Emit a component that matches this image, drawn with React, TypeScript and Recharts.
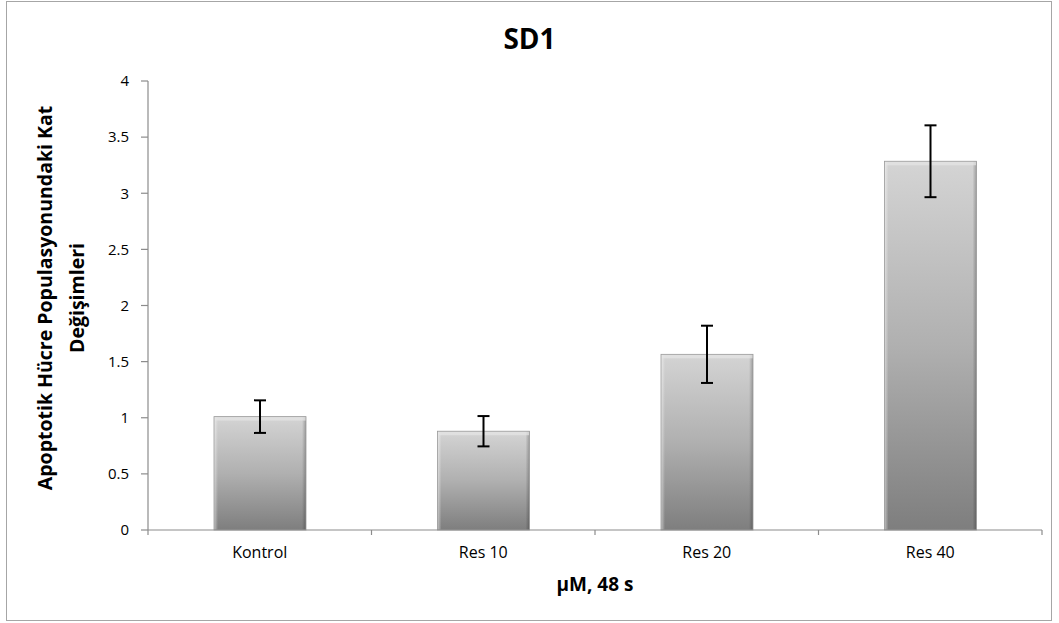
import { BarChart, Bar, XAxis, YAxis, ErrorBar } from "recharts";

const categories = ["Kontrol", "Res 10", "Res 20", "Res 40"];
const foldChange = [1.01, 0.88, 1.565, 3.285];
const errors = [0.145, 0.135, 0.255, 0.32];
const yTicks = [0, 0.5, 1, 1.5, 2, 2.5, 3, 3.5, 4];

const FONT = "'Open Sans', 'Noto Sans', sans-serif";
const AXIS = "#8c8c8c";

const data = categories.map((name, i) => ({
  name,
  value: foldChange[i],
  err: errors[i],
}));

// bar with a soft bevel, like the office-style gradient
function BevelBar(props: any) {
  const { x, y, width, height } = props;
  if (!height || height <= 0) return null;
  return (
    <g>
      <rect x={x} y={y} width={width} height={height} fill="url(#barFill)" />
      <rect x={x} y={y} width={4} height={height} fill="url(#edgeL)" />
      <rect x={x + width - 4} y={y} width={4} height={height} fill="url(#edgeR)" />
      <rect x={x} y={y} width={width} height={4} fill="#e6e6e6" opacity={0.7} />
      <rect x={x} y={y} width={width} height={height} fill="none" stroke="#9a9a9a" strokeWidth={0.8} />
    </g>
  );
}

// category label + tick marks between categories (excel style)
function CatTick(props: any) {
  const { x, y, payload, index, visibleTicksCount } = props;
  const half = payload.offset || 0;
  return (
    <g>
      <line x1={x - half} x2={x - half} y1={y} y2={y + 5} stroke={AXIS} strokeWidth={1.2} />
      {index === visibleTicksCount - 1 && (
        <line x1={x + half} x2={x + half} y1={y} y2={y + 5} stroke={AXIS} strokeWidth={1.2} />
      )}
      <text x={x} y={y + 28} textAnchor="middle" fontSize={16} fill="#000" fontFamily={FONT}>
        {payload.value}
      </text>
    </g>
  );
}

export default function App() {
  return (
    <div style={{ position: "absolute", left: 0, top: 0, width: 1059, height: 623, background: "#fff", fontFamily: FONT }}>
      <div style={{ position: "absolute", left: 6, top: 1, width: 1046, height: 620, border: "1.5px solid #a6a6a6", boxSizing: "border-box" }} />
      <div style={{ position: "absolute", left: 0, top: 18, width: 1059, textAlign: "center", fontSize: 28, lineHeight: "40px", fontWeight: 700, color: "#000" }}>
        SD1
      </div>
      <div
        style={{
          position: "absolute",
          left: 61,
          top: 298,
          transform: "translate(-50%, -50%) rotate(-90deg)",
          whiteSpace: "nowrap",
          textAlign: "center",
          fontSize: 19.5,
          fontWeight: 700,
          lineHeight: "32px",
          color: "#000",
        }}
      >
        Apoptotik Hücre Populasyonundaki Kat
        <br />
        Değişimleri
      </div>
      <div style={{ position: "absolute", left: 148, top: 569, width: 894, textAlign: "center", fontSize: 19, lineHeight: "30px", fontWeight: 700, color: "#000" }}>
        µM, 48 s
      </div>
      <div style={{ position: "absolute", left: 0, top: 0 }}>
        <BarChart width={1059} height={623} data={data} margin={{ top: 81, right: 17, bottom: 63, left: 78 }}>
          <defs>
            <linearGradient id="barFill" x1="0" y1="0" x2="0" y2="1">
              <stop offset="0%" stopColor="#d4d4d4" />
              <stop offset="50%" stopColor="#b0b0b0" />
              <stop offset="100%" stopColor="#7e7e7e" />
            </linearGradient>
            <linearGradient id="edgeL" x1="0" y1="0" x2="1" y2="0">
              <stop offset="0%" stopColor="#ffffff" stopOpacity={0.5} />
              <stop offset="100%" stopColor="#ffffff" stopOpacity={0} />
            </linearGradient>
            <linearGradient id="edgeR" x1="0" y1="0" x2="1" y2="0">
              <stop offset="0%" stopColor="#000000" stopOpacity={0} />
              <stop offset="100%" stopColor="#000000" stopOpacity={0.25} />
            </linearGradient>
          </defs>
          <XAxis
            dataKey="name"
            height={30}
            tickLine={false}
            tickSize={0}
            tickMargin={0}
            axisLine={{ stroke: AXIS, strokeWidth: 1.2 }}
            tick={<CatTick />}
            interval={0}
          />
          <YAxis
            domain={[0, 4]}
            ticks={yTicks}
            interval={0}
            width={70}
            axisLine={{ stroke: AXIS, strokeWidth: 1.2 }}
            tickLine={{ stroke: AXIS, strokeWidth: 1.2 }}
            tickSize={7}
            tickMargin={12}
            tick={{ fontSize: 15, fill: "#000", fontFamily: FONT }}
          />
          <Bar dataKey="value" barSize={92} shape={<BevelBar />} isAnimationActive={false}>
            <ErrorBar dataKey="err" width={6} stroke="#000" strokeWidth={2} direction="y" />
          </Bar>
        </BarChart>
      </div>
    </div>
  );
}
